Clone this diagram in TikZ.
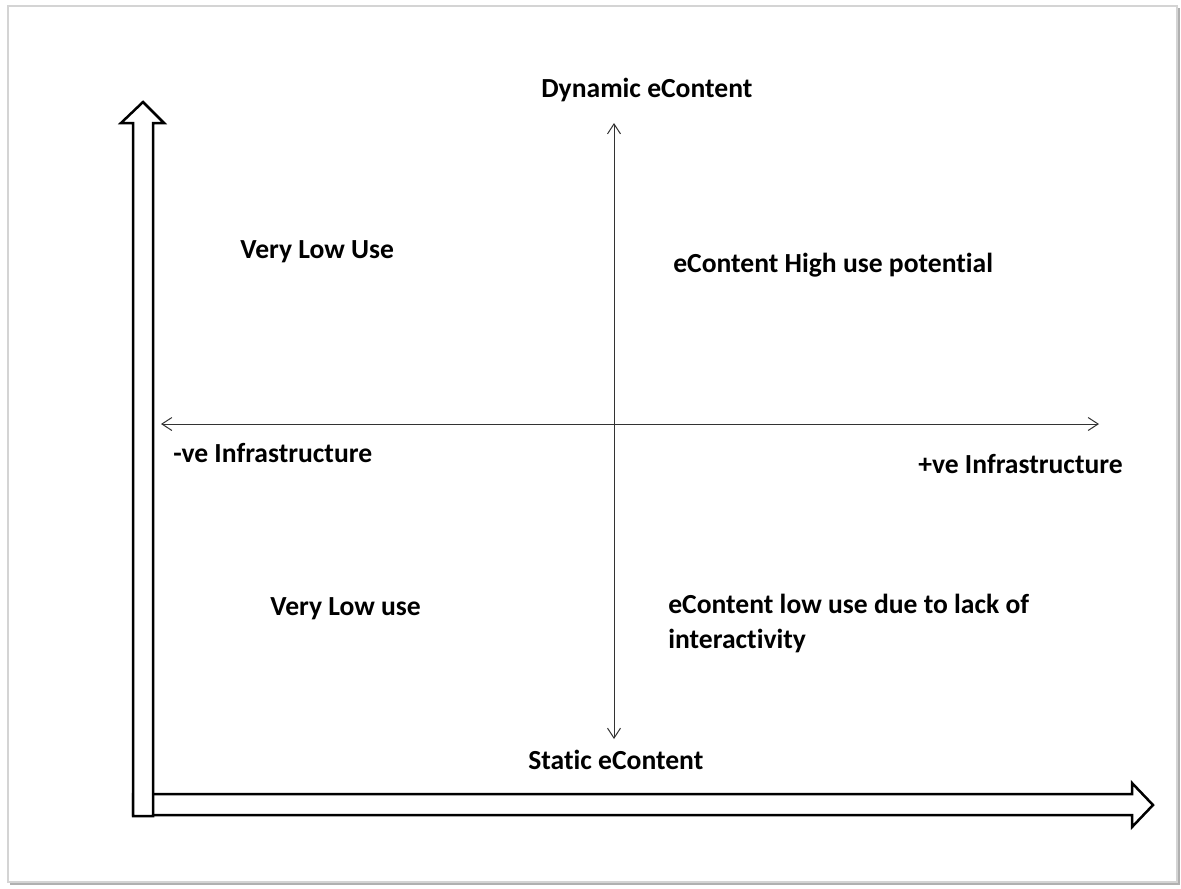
\documentclass[tikz,border=0pt]{standalone}
\usepackage{fontspec}
\setmainfont[Ligatures={NoCommon}]{Carlito}
\usetikzlibrary{arrows.meta}

\tikzset{
    quadLabel/.style={anchor=base west, inner sep=0pt, font=\fontsize{15.7}{19.5}\selectfont\bfseries},
    axisLine/.style={line width=0.2mm, draw=black!80, {Straight Barb[length=2mm,width=2.6mm]}-{Straight Barb[length=2mm,width=2.6mm]}},
    hollowArrow/.style={line width=0.5mm, draw=black, fill=white, line join=miter}
}

\begin{document}
\begin{tikzpicture}[x=0.2mm, y=-0.2mm]
    \definecolor{frameColour}{HTML}{D4D4D4}
    \definecolor{shadowColour}{HTML}{B0B0B0}

    \useasboundingbox (0,0) rectangle (1181,888);

    % Draw page frame
    \draw[frameColour, line width=0.3mm] (8,6) rectangle (1177,882);
    \draw[shadowColour, line width=0.5mm] (1179,8) -- (1179,884) -- (10,884);

    % Draw the big hollow axes
    \draw[hollowArrow] (133,794) -- (1132,794) -- (1132,783) -- (1153,805)
        -- (1132,827) -- (1132,815) -- (133,815) -- cycle;
    \draw[hollowArrow] (133,816) -- (133,123) -- (121,123) -- (143,102)
        -- (164,123) -- (153,123) -- (153,816) -- cycle;

    % Ends of the thin axes
    \coordinate (top) at (614,123);
    \coordinate (bottom) at (614,739);
    \coordinate (left) at (161,424);
    \coordinate (right) at (1099,424);

    \draw[axisLine] (bottom) -- (top);
    \draw[axisLine] (left) -- (right);

    % Axis labels
    \node[quadLabel] (dynamic) at (541,97) {Dynamic eContent};
    \node[quadLabel] (static) at (528,769) {Static eContent};
    \node[quadLabel] (negInfra) at (173,462) {-ve Infrastructure};
    \node[quadLabel] (posInfra) at (918,473) {+ve Infrastructure};

    % Quadrant labels
    \node[quadLabel] (topLeft) at (240,258) {Very Low Use};
    \node[quadLabel] (topRight) at (673,272) {eContent High use potential};
    \node[quadLabel] (bottomLeft) at (270,615) {Very Low use};
    \node[quadLabel, align=left] (bottomRight) at (668,648) {eContent low use due to lack of\\interactivity};

\end{tikzpicture}
\end{document}
